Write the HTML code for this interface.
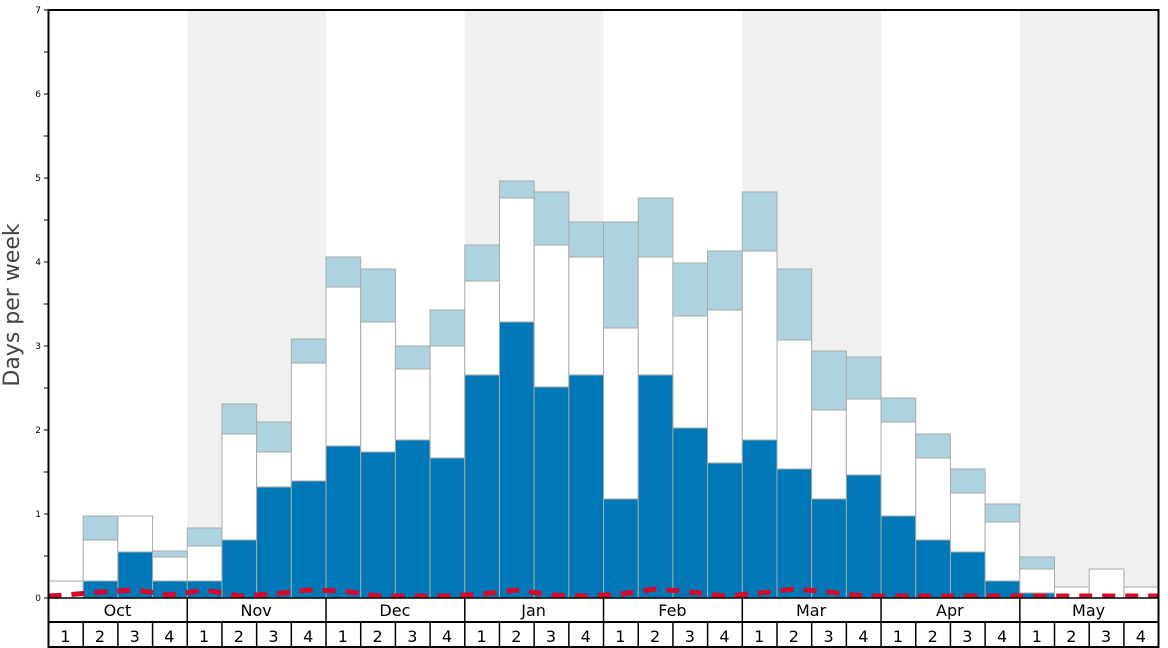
<!DOCTYPE html>
<html><head><meta charset="utf-8"><style>
body{margin:0;background:#fff}
svg{display:block;font-family:"DejaVu Sans","Liberation Sans",sans-serif}
</style></head><body>
<svg id="s" width="1168" height="648" viewBox="0 0 1168 648">
<g id="bg"></g>
<g id="bars"></g>
<polyline id="red" fill="none" stroke="#d40a2a" stroke-width="5" stroke-dasharray="13,10"/>
<g stroke="#000" stroke-width="1">
<line x1="44" y1="598" x2="48" y2="598"/><line x1="44" y1="514" x2="48" y2="514"/><line x1="44" y1="430" x2="48" y2="430"/><line x1="44" y1="346" x2="48" y2="346"/><line x1="44" y1="262" x2="48" y2="262"/><line x1="44" y1="178" x2="48" y2="178"/><line x1="44" y1="94" x2="48" y2="94"/><line x1="44" y1="10" x2="48" y2="10"/>
<line x1="44" y1="556" x2="48" y2="556"/><line x1="44" y1="472" x2="48" y2="472"/><line x1="44" y1="388" x2="48" y2="388"/><line x1="44" y1="304" x2="48" y2="304"/><line x1="44" y1="220" x2="48" y2="220"/><line x1="44" y1="136" x2="48" y2="136"/><line x1="44" y1="52" x2="48" y2="52"/>
</g>
<g font-size="9" text-anchor="end" fill="#000">
<text x="41" y="601">0</text><text x="41" y="517">1</text><text x="41" y="433">2</text><text x="41" y="349">3</text><text x="41" y="265">4</text><text x="41" y="181">5</text><text x="41" y="97">6</text><text x="41" y="13">7</text>
</g>
<text transform="translate(19,305) rotate(-90)" font-size="22" fill="#444" text-anchor="middle">Days per week</text>
<rect x="48.5" y="10" width="1110" height="637" fill="none" stroke="#000" stroke-width="2"/>
<line x1="48" y1="598" x2="1158" y2="598" stroke="#000" stroke-width="1.5"/>
<line x1="48" y1="622" x2="1158" y2="622" stroke="#000" stroke-width="2"/>
<g id="grid" stroke="#000" stroke-width="1.5"></g>
<g font-size="16" text-anchor="middle" fill="#000">
<text x="117.4" y="616">Oct</text><text x="256.1" y="616">Nov</text><text x="394.9" y="616">Dec</text><text x="533.6" y="616">Jan</text><text x="672.4" y="616">Feb</text><text x="811.1" y="616">Mar</text><text x="949.9" y="616">Apr</text><text x="1088.6" y="616">May</text>
</g>
<g id="wk" font-size="16" text-anchor="middle" fill="#000">
<text x="65.3" y="642">1</text><text x="100" y="642">2</text><text x="134.7" y="642">3</text><text x="169.4" y="642">4</text>
<text x="204.1" y="642">1</text><text x="238.8" y="642">2</text><text x="273.5" y="642">3</text><text x="308.2" y="642">4</text>
<text x="342.9" y="642">1</text><text x="377.6" y="642">2</text><text x="412.3" y="642">3</text><text x="447" y="642">4</text>
<text x="481.6" y="642">1</text><text x="516.3" y="642">2</text><text x="551" y="642">3</text><text x="585.7" y="642">4</text>
<text x="620.4" y="642">1</text><text x="655.1" y="642">2</text><text x="689.8" y="642">3</text><text x="724.5" y="642">4</text>
<text x="759.2" y="642">1</text><text x="793.9" y="642">2</text><text x="828.6" y="642">3</text><text x="863.3" y="642">4</text>
<text x="898" y="642">1</text><text x="932.7" y="642">2</text><text x="967.4" y="642">3</text><text x="1002.1" y="642">4</text>
<text x="1036.8" y="642">1</text><text x="1071.4" y="642">2</text><text x="1106.1" y="642">3</text><text x="1140.8" y="642">4</text>
</g>
</svg>
<script>
var NS="http://www.w3.org/2000/svg",W=34.69,X0=48.5,B=598;
function r(g,x,y,w,h,f,s){var e=document.createElementNS(NS,"rect");e.setAttribute("x",x);e.setAttribute("y",y);e.setAttribute("width",w);e.setAttribute("height",h);e.setAttribute("fill",f);if(s){e.setAttribute("stroke",s);e.setAttribute("stroke-width","1");}document.getElementById(g).appendChild(e);}
function l(g,x1,y1,x2,y2){var e=document.createElementNS(NS,"line");e.setAttribute("x1",x1);e.setAttribute("y1",y1);e.setAttribute("x2",x2);e.setAttribute("y2",y2);document.getElementById(g).appendChild(e);}
[1,3,5,7].forEach(function(m){r("bg",X0+m*4*W,10,4*W,588,"#f0f0f0");});
var d=[[598,581,581],[581,540,516],[552,516,516],[581,557,551],[581,546,528],[540,434,404],[487,452,422],[481,363,339],
[446,287,257],[452,322,269],[440,369,346],[458,346,310],[375,281,245],[322,198,181],[387,245,192],[375,257,222],
[499,328,222],[375,257,198],[428,316,263],[463,310,251],[440,251,192],[469,340,269],[499,410,351],[475,399,357],
[516,422,398],[540,458,434],[552,493,469],[581,522,504],[593,569,557],[598,587,587],[598,569,569],[598,587,587]];
d.forEach(function(v,i){var x=X0+i*W;
if(v[2]<v[1])r("bars",x,v[2],W,v[1]-v[2],"#add3e0","#aaa");
if(v[1]<v[0])r("bars",x,v[1],W,v[0]-v[1],"#fff","#aaa");
if(v[0]<B)r("bars",x,v[0],W,B-v[0],"#0077b6","#aaa");});
var ry=[595,592,590,595,590,596,594,590,591,596,596,596,594,590,595,596,594,589,592,596,593,589,592,596,596,596,596,596,596,596,596,596];
var pts=[];for(var i=0;i<32;i++){pts.push((X0+i*W+W/2).toFixed(1)+","+ry[i]);}
pts.unshift(X0+","+596);pts.push("1158,596");
document.getElementById("red").setAttribute("points",pts.join(" "));
for(var m=1;m<8;m++)l("grid",X0+m*4*W,598,X0+m*4*W,622);
for(var k=1;k<32;k++)l("grid",X0+k*W,622,X0+k*W,648);
</script>
</body></html>
